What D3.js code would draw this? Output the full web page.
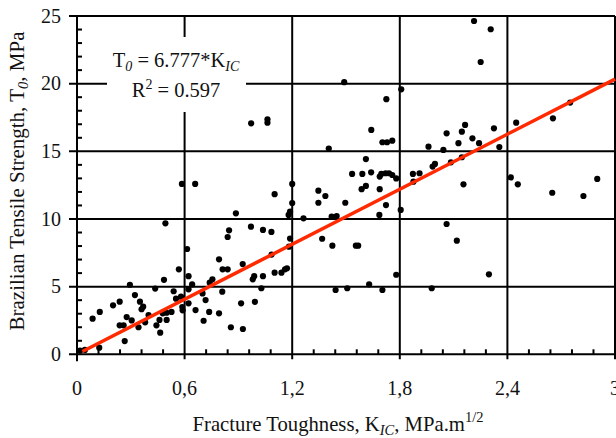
<!DOCTYPE html>
<html>
<head>
<meta charset="utf-8">
<script src="https://cdn.jsdelivr.net/npm/d3@7"></script>
<style>
  body { margin: 0; background: #fff; }
  svg text { font-family: "Liberation Serif", "DejaVu Serif", serif; }
</style>
</head>
<body>
<svg id="chart" width="616" height="438"></svg>
<script>
// fracture toughness K_IC (MPa.m^1/2) and Brazilian tensile strength T0 (MPa)
const kic = [
  0.017, 0.044, 0.124, 0.087, 0.127, 0.201, 0.238, 0.295, 0.323, 0.238,
  0.260, 0.277, 0.305, 0.266, 0.343, 0.351, 0.369, 0.360, 0.380, 0.399,
  0.436, 0.443, 0.460, 0.464, 0.478, 0.485, 0.493, 0.500, 0.500, 0.527,
  0.539, 0.552, 0.568, 0.580, 0.587, 0.589, 0.585,
  0.614, 0.622, 0.622, 0.622, 0.642, 0.659, 0.661, 0.700, 0.706, 0.717,
  0.737, 0.740, 0.755, 0.792, 0.792, 0.810, 0.812, 0.840, 0.840, 0.848,
  0.858, 0.886, 0.915, 0.924, 0.925, 0.970, 0.971, 0.980, 0.988, 0.992,
  1.028, 1.037, 1.037, 1.062, 1.062, 1.085, 1.084, 1.102, 1.102, 1.140,
  1.160, 1.171, 1.180, 1.188, 1.200, 1.182, 1.188, 1.200, 1.263,
  1.346, 1.385, 1.346, 1.367, 1.404, 1.420, 1.448, 1.424, 1.442, 1.490,
  1.496, 1.507, 1.534, 1.555, 1.568, 1.587, 1.591, 1.611, 1.611, 1.629,
  1.640, 1.641, 1.686, 1.688, 1.688, 1.697, 1.703, 1.703, 1.721, 1.723,
  1.725, 1.729, 1.740, 1.758, 1.758, 1.780, 1.780, 1.805, 1.808,
  1.873, 1.910, 1.876, 1.960, 1.978, 1.983, 1.996, 2.043, 2.061, 2.061,
  2.085, 2.118, 2.127, 2.146, 2.146, 2.155, 2.164, 2.205, 2.214, 2.242,
  2.251, 2.297, 2.307, 2.325, 2.355,
  2.419, 2.449, 2.458, 2.650, 2.654, 2.750, 2.824, 2.901
];
const t0 = [
  0.27, 0.32, 0.49, 2.63, 3.13, 3.62, 3.89, 5.14, 4.38, 2.14,
  2.14, 2.75, 2.50, 0.98, 2.00, 3.89, 3.52, 3.33, 2.36, 2.90,
  4.86, 2.14, 2.54, 1.60, 3.03, 5.50, 9.68, 3.07, 2.54, 3.13,
  4.66, 4.11, 6.28, 4.26, 3.49, 3.25, 12.59,
  7.78, 5.77, 4.80, 3.77, 5.16, 12.59, 3.27, 4.50, 2.48, 4.01,
  3.13, 5.29, 5.54, 7.02, 3.03, 4.63, 6.28, 6.28, 8.67, 9.16,
  2.00, 10.42, 3.77, 6.67, 1.87, 9.43, 17.07, 5.54, 5.77, 3.88,
  4.88, 9.19, 5.77, 17.37, 17.12, 7.37, 9.04, 11.83, 6.03, 6.03,
  6.28, 6.36, 10.30, 10.54, 11.18, 7.95, 8.55, 12.59, 10.05,
  12.09, 11.70, 11.20, 8.54, 15.20, 10.17, 10.22, 8.03, 4.75, 20.11,
  11.20, 4.88, 13.33, 8.03, 8.03, 12.20, 13.33, 14.43, 12.44, 5.17,
  13.45, 16.58, 10.30, 13.13, 12.20, 13.33, 15.67, 4.75, 13.38, 11.03,
  18.85, 15.67, 13.38, 15.79, 13.25, 13.00, 5.88, 10.67, 19.58,
  13.33, 13.38, 12.76, 15.34, 4.88, 13.87, 14.07, 15.10, 16.33, 9.63,
  14.19, 8.40, 15.60, 16.45, 14.56, 12.56, 16.95, 15.96, 24.63, 15.60,
  21.60, 5.91, 24.02, 16.70, 15.32,
  13.07, 17.12, 12.56, 11.94, 17.44, 18.60, 11.70, 12.96
];

// fitted line T0 = 6.777 * K_IC
const slope = 6.777;
const fitRange = [0.03, 3];

const xTicks = [0, 0.6, 1.2, 1.8, 2.4, 3];
const xTickLabels = ['0', '0,6', '1,2', '1,8', '2,4', '3'];
const yTicks = [0, 5, 10, 15, 20, 25];

const margin = {top: 16, right: 1, bottom: 84, left: 77};
const width = 616, height = 438;
const serif = '"Liberation Serif", "DejaVu Serif", serif';

const svg = d3.select('#chart').attr('font-family', serif);

const x = d3.scaleLinear().domain([0, 3]).range([margin.left, width - margin.right]);
const y = d3.scaleLinear().domain([0, 25]).range([height - margin.bottom + 0.3, margin.top]);

const x0 = x(0), x1 = x(3), y0 = y(0), y1 = y(25);

// gridlines
const grid = svg.append('g').attr('stroke', '#000').attr('stroke-width', 2);
grid.selectAll('line.gx')
    .data(xTicks.slice(1))
    .enter().append('line')
    .attr('x1', d => x(d)).attr('x2', d => x(d))
    .attr('y1', y1).attr('y2', y0 + 5);
grid.selectAll('line.gy')
    .data(yTicks.slice(1))
    .enter().append('line')
    .attr('x1', x0 - 8).attr('x2', x1)
    .attr('y1', d => y(d)).attr('y2', d => y(d));

// minor ticks pointing inside
const xMinor = d3.range(0, 3.0001, 0.12).filter(v => Math.abs(v / 0.6 - Math.round(v / 0.6)) > 0.01);
const yMinor = d3.range(1, 25, 1).filter(v => v % 5 !== 0);
grid.selectAll('line.mx')
    .data(xMinor)
    .enter().append('line')
    .attr('x1', d => x(d)).attr('x2', d => x(d))
    .attr('y1', y0).attr('y2', y0 - 5);
grid.selectAll('line.my')
    .data(yMinor)
    .enter().append('line')
    .attr('x1', x0).attr('x2', x0 + 5)
    .attr('y1', d => y(d)).attr('y2', d => y(d));

// axes lines
grid.append('line').attr('x1', x0).attr('x2', x0).attr('y1', y1).attr('y2', y0 + 7);
grid.append('line').attr('x1', x0 - 8).attr('x2', x1).attr('y1', y0).attr('y2', y0);

// tick labels
svg.append('g')
    .selectAll('text')
    .data(yTicks)
    .enter().append('text')
    .attr('x', x0 - 16)
    .attr('y', d => y(d))
    .attr('dy', '0.34em')
    .attr('text-anchor', 'end')
    .attr('font-size', 20)
    .attr('fill', '#111')
    .text(d => d);

svg.append('g')
    .selectAll('text')
    .data(xTicks)
    .enter().append('text')
    .attr('x', d => x(d))
    .attr('y', y0 + 41)
    .attr('text-anchor', 'middle')
    .attr('font-size', 20)
    .attr('fill', '#111')
    .text((d, i) => xTickLabels[i]);

// annotation box
svg.append('rect')
    .attr('x', 107).attr('y', 37)
    .attr('width', 139).attr('height', 75)
    .attr('fill', '#fff');

const note = svg.append('g').attr('font-size', 20.5).attr('text-anchor', 'middle').attr('fill', '#111');
const l1 = note.append('text').attr('x', 176).attr('y', 67);
l1.append('tspan').text('T');
l1.append('tspan').attr('font-size', 14).attr('font-style', 'italic').attr('dy', 4).text('0');
l1.append('tspan').attr('dy', -4).text(' = 6.777*K');
l1.append('tspan').attr('font-size', 14).attr('font-style', 'italic').attr('dy', 4).text('IC');
const l2 = note.append('text').attr('x', 176).attr('y', 97);
l2.append('tspan').text('R');
l2.append('tspan').attr('font-size', 14).attr('dy', -8).text('2');
l2.append('tspan').attr('dy', 8).text(' = 0.597');

// points
svg.append('g')
    .selectAll('circle')
    .data(kic.map((k, i) => ({k, t: t0[i]})))
    .enter().append('circle')
    .attr('cx', d => x(d.k))
    .attr('cy', d => y(d.t))
    .attr('r', 3.1)
    .attr('fill', '#000');

// regression line
const line = d3.line().x(d => x(d)).y(d => y(slope * d));
svg.append('path')
    .datum(fitRange)
    .attr('d', line)
    .attr('fill', 'none')
    .attr('stroke', '#ff2a00')
    .attr('stroke-width', 3.5);

// axis titles
const xt = svg.append('text')
    .attr('x', 338).attr('y', 431)
    .attr('text-anchor', 'middle')
    .attr('font-size', 20.7)
    .attr('fill', '#111');
xt.append('tspan').text('Fracture Toughness, K');
xt.append('tspan').attr('font-size', 14.5).attr('font-style', 'italic').attr('dy', 4).text('IC');
xt.append('tspan').attr('dy', -4).text(', MPa.m');
xt.append('tspan').attr('font-size', 14.5).attr('dy', -9).text('1/2');

const yt = svg.append('text')
    .attr('transform', 'translate(24,181) rotate(-90)')
    .attr('text-anchor', 'middle')
    .attr('font-size', 21)
    .attr('fill', '#111');
yt.append('tspan').text('Brazilian Tensile Strength, T');
yt.append('tspan').attr('font-size', 14.5).attr('font-style', 'italic').attr('dy', 4).text('0');
yt.append('tspan').attr('dy', -4).text(', MPa');
</script>
</body>
</html>
